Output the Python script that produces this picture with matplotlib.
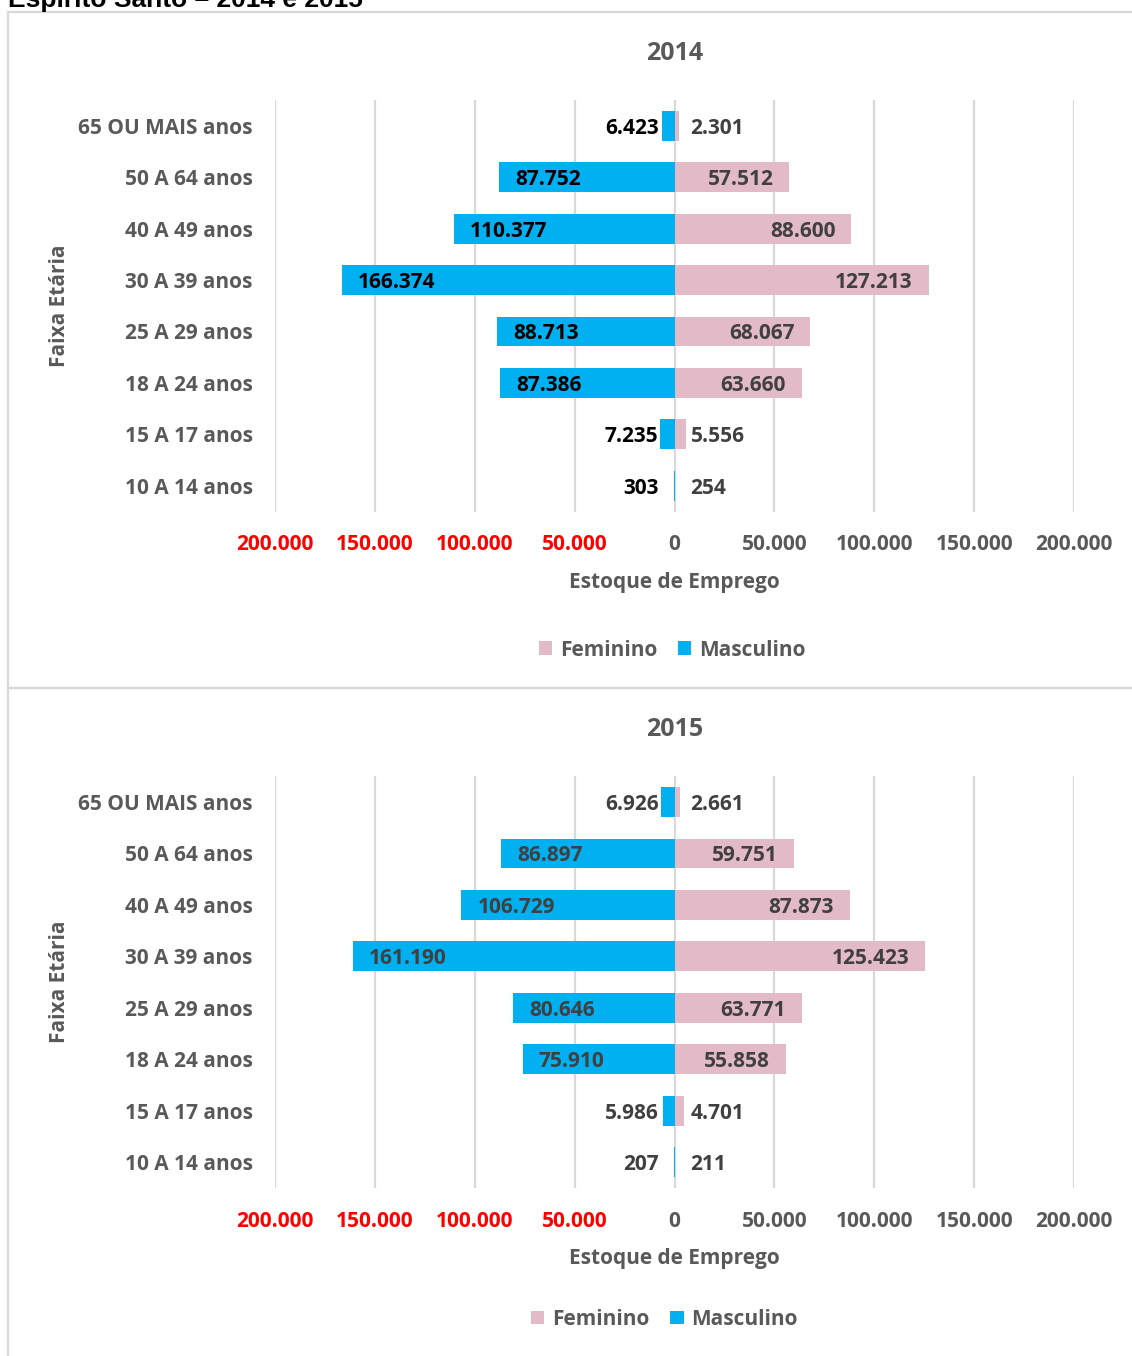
import matplotlib
matplotlib.use('Agg')
import matplotlib.pyplot as plt
from matplotlib.patches import Rectangle
from matplotlib.ticker import FuncFormatter

plt.rcParams['font.family'] = ['Open Sans', 'DejaVu Sans']
plt.rcParams['font.weight'] = 'bold'

ages = ['65 OU MAIS anos', '50 A 64 anos', '40 A 49 anos', '30 A 39 anos',
        '25 A 29 anos', '18 A 24 anos', '15 A 17 anos', '10 A 14 anos']
masc_2014 = [6423, 87752, 110377, 166374, 88713, 87386, 7235, 303]
fem_2014 = [2301, 57512, 88600, 127213, 68067, 63660, 5556, 254]
masc_2015 = [6926, 86897, 106729, 161190, 80646, 75910, 5986, 207]
fem_2015 = [2661, 59751, 87873, 125423, 63771, 55858, 4701, 211]
xticks = [-200000, -150000, -100000, -50000, 0, 50000, 100000, 150000, 200000]

BLUE = '#00B0F0'
PINK = '#E3BAC7'
GRAY = '#595959'
DARK = '#404040'
GRID = '#D9D9D9'
FS = 15

W, H = 1132, 1356
fig = plt.figure(figsize=(W / 100, H / 100), dpi=100)


def fmt(v):
    return f"{int(abs(v)):,}".replace(',', '.')


# panel frames
for (y0, y1) in [(12, 688), (688, H + 10)]:
    fig.patches.append(Rectangle((8 / W, 1 - y1 / H), (W - 8 + 10) / W, (y1 - y0) / H,
                                 transform=fig.transFigure, fill=False,
                                 edgecolor=GRID, linewidth=1.6))

fig.text(8 / W, 1 - 7 / H, 'Espírito Santo – 2014 e 2015', family='Liberation Sans',
         fontsize=19, fontweight='bold', color='black', ha='left', va='baseline')


def pyramid(top_px, year, masc, fem, masc_lbl_color, leg_x, leg_off):
    bot_px = top_px + 411.5
    ax = fig.add_axes([275 / W, 1 - bot_px / H, 799 / W, 411.5 / H])
    y = list(range(len(ages)))
    ax.barh(y, [-m for m in masc], height=0.58, color=BLUE, label='Masculino', zorder=3)
    ax.barh(y, fem, height=0.58, color=PINK, label='Feminino', zorder=3)
    pad = 8000
    for i in y:
        m = masc[i]
        if m > 30000:
            ax.text(-m + pad, i, fmt(m), ha='left', va='center_baseline', fontsize=FS,
                    color=masc_lbl_color, zorder=4)
        else:
            ax.text(-pad, i, fmt(m), ha='right', va='center_baseline', fontsize=FS,
                    color=masc_lbl_color, zorder=4)
        f = fem[i]
        if f > 30000:
            ax.text(f - pad, i, fmt(f), ha='right', va='center_baseline', fontsize=FS,
                    color=DARK, zorder=4)
        else:
            ax.text(pad, i, fmt(f), ha='left', va='center_baseline', fontsize=FS,
                    color=DARK, zorder=4)
    ax.set_xlim(-200000, 200000)
    ax.set_ylim(len(ages) - 0.5, -0.5)
    ax.set_xticks(xticks)
    ax.xaxis.set_major_formatter(FuncFormatter(lambda v, p: fmt(v)))
    ax.set_yticks(y)
    ax.set_yticklabels(ages)
    ax.tick_params(axis='both', length=0, labelsize=FS, labelcolor=GRAY)
    ax.tick_params(axis='x', pad=16.5)
    ax.tick_params(axis='y', pad=16)
    for lbl, t in zip(ax.get_xticklabels(), xticks):
        if t < 0:
            lbl.set_color('#FF0000')
    ax.grid(axis='x', color=GRID, linewidth=1.6, zorder=0)
    for s in ax.spines.values():
        s.set_visible(False)
    ax.set_xlabel('Estoque de Emprego', fontsize=FS, color=GRAY, fontweight='bold')
    ax.xaxis.set_label_coords(0.5, (bot_px - (top_px + 472)) / 411.5)
    ax.set_ylabel('Faixa Etária', fontsize=FS, color=GRAY, fontweight='bold')
    ax.yaxis.set_label_coords(-0.256, 0.5)
    ax.set_title(year, fontsize=18, color=GRAY, fontweight='bold', pad=29)
    handles, labels = ax.get_legend_handles_labels()
    ax.legend(handles[::-1], labels[::-1], loc='center', ncol=2, frameon=False,
              bbox_to_anchor=(leg_x, (bot_px - (top_px + leg_off)) / 411.5),
              fontsize=FS, labelcolor=GRAY, handlelength=0.65, handleheight=0.65,
              handletextpad=0.35, columnspacing=1.0)
    return ax


ax1 = pyramid(100, '2014', masc_2014, fem_2014, 'black', 0.497, 550)
ax2 = pyramid(776.3, '2015', masc_2015, fem_2015, DARK, 0.487, 543)

fig.savefig('out.png', dpi=100)
